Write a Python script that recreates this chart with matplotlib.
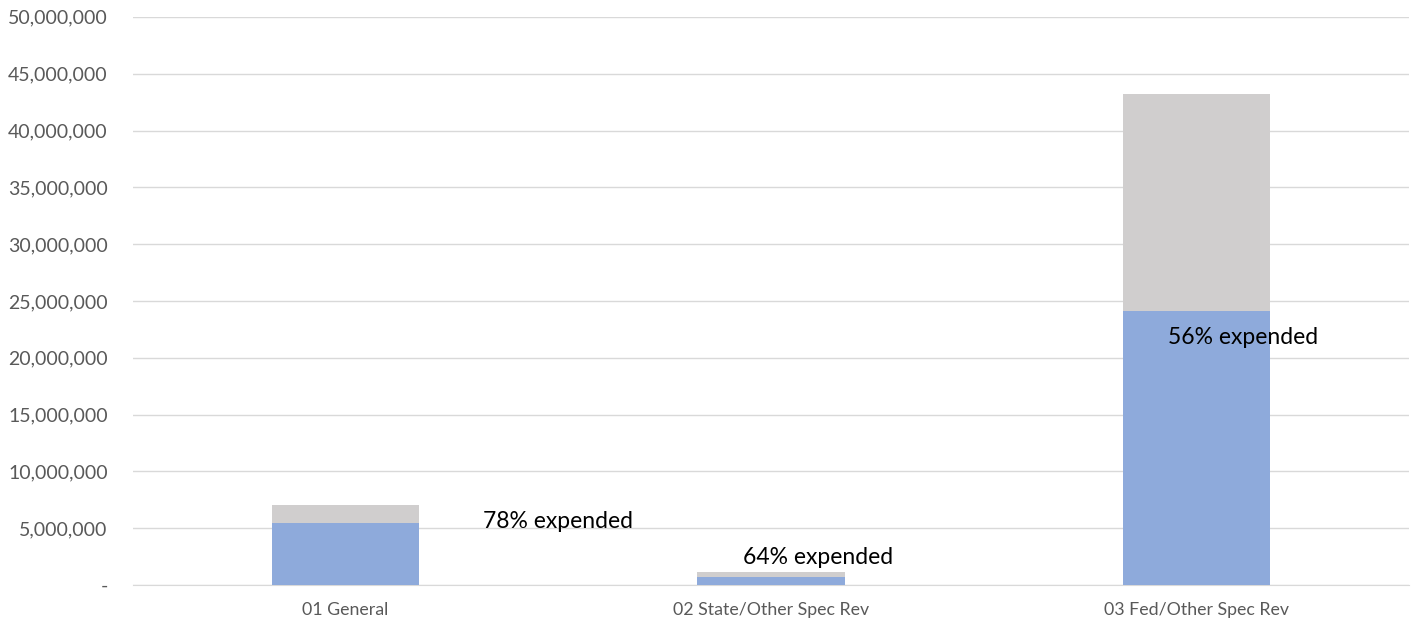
import matplotlib.pyplot as plt
from matplotlib.ticker import FuncFormatter

plt.rcParams['font.family'] = ['Lato', 'DejaVu Sans']

categories = ['01 General', '02 State/Other Spec Rev', '03 Fed/Other Spec Rev']
budget = [7040000, 1130000, 43200000]
expended = [5500000, 720000, 24150000]
pct_labels = ['78% expended', '64% expended', '56% expended']

fig = plt.figure(figsize=(14.12, 6.25), dpi=100)
ax = fig.add_axes([0.094, 0.064, 0.904, 0.909])

xs = range(len(categories))
remaining = [b - e for b, e in zip(budget, expended)]
ax.bar(xs, expended, width=0.346, color='#8eaadb', zorder=3)
ax.bar(xs, remaining, bottom=expended, width=0.346, color='#d0cece', zorder=3)

# label positions (data coords), as placed in the original
label_x = [0.50, 1.11, 2.11]
label_y = [5550000, 2400000, 21750000]
for lx, ly, t in zip(label_x, label_y, pct_labels):
    ax.text(lx, ly, t, ha='center', va='center', fontsize=16.5, color='black', zorder=4)

ax.set_xlim(-0.5, 2.5)
ax.set_ylim(0, 50000000)
ax.set_yticks(range(0, 50000001, 5000000))
ax.yaxis.set_major_formatter(FuncFormatter(lambda v, p: '-' if v == 0 else '{:,.0f}'.format(v)))
ax.set_xticks(list(xs))
ax.set_xticklabels(categories)
ax.tick_params(axis='both', length=0, colors='#595959')
ax.tick_params(axis='y', pad=18, labelsize=14)
ax.tick_params(axis='x', pad=12, labelsize=12.8)
ax.grid(axis='y', color='#d9d9d9', linewidth=1, zorder=0)
for s in ['top', 'right', 'left']:
    ax.spines[s].set_visible(False)
ax.spines['bottom'].set_color('#d9d9d9')

plt.savefig('out.png')
